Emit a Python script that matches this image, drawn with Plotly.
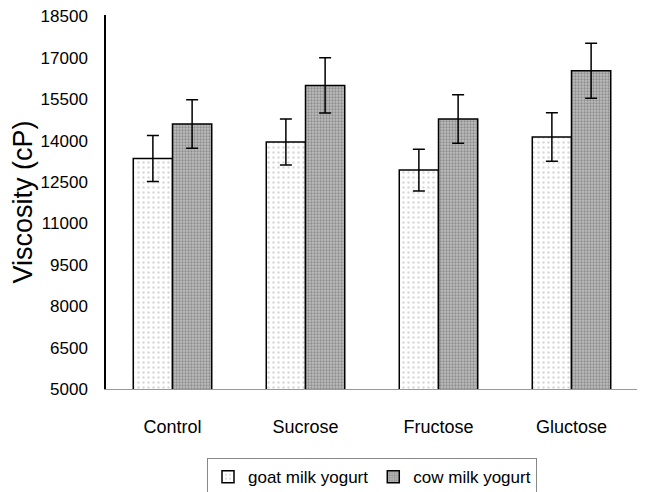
import plotly.graph_objects as go

categories = ["Control", "Sucrose", "Fructose", "Gluctose"]
goat_values = [13350, 13950, 12930, 14130]
goat_errors = [830, 830, 760, 880]
cow_values = [14600, 16000, 14780, 16530]
cow_errors = [880, 1000, 880, 1000]
y_ticks = [5000, 6500, 8000, 9500, 11000, 12500, 14000, 15500, 17000, 18500]
y_tick_labels = [str(v) for v in y_ticks]

fig = go.Figure()
fig.add_trace(go.Bar(
    x=categories, y=goat_values, name="goat milk yogurt",
    marker=dict(color="white", line=dict(color="black", width=1.5),
                pattern=dict(shape=".", fgcolor="#b0b0b0", bgcolor="white", size=5, solidity=0.18)),
    error_y=dict(type="data", array=goat_errors, color="black", thickness=1.5, width=6),
))
fig.add_trace(go.Bar(
    x=categories, y=cow_values, name="cow milk yogurt",
    marker=dict(color="#a0a0a0", line=dict(color="black", width=1.5),
                pattern=dict(shape=".", fgcolor="#5e5e5e", bgcolor="#bdbdbd", size=3, solidity=0.45)),
    error_y=dict(type="data", array=cow_errors, color="black", thickness=1.5, width=6),
))

# the page body has an 8px default margin, so the figure is sized/placed to compensate
fig.update_layout(
    width=637, height=484,
    margin=dict(l=98, r=7, t=7, b=103),
    paper_bgcolor="white", plot_bgcolor="white",
    barmode="group", bargap=0.41, bargroupgap=0,
    font=dict(family="Liberation Sans, Arial, sans-serif", color="black"),
    showlegend=True,
    legend=dict(orientation="h", x=0.5, xanchor="center", xref="paper",
                y=0.07, yanchor="top", yref="container",
                bordercolor="#888888", borderwidth=1, font=dict(size=17),
                itemwidth=30, tracegroupgap=0, bgcolor="white"),
    xaxis=dict(showline=True, linecolor="#999999", linewidth=1, ticks="",
               tickfont=dict(size=18), showgrid=False, ticklabelstandoff=21,
               automargin=False),
    yaxis=dict(range=[5000, 18550], tickvals=y_ticks, ticktext=y_tick_labels,
               showline=True, linecolor="black", automargin=False,
               linewidth=1.5, ticks="", showgrid=False, zeroline=False,
               tickfont=dict(size=17), ticklabelstandoff=13, ticklabeloverflow="allow",
               title=dict(text="Viscosity (cP)", font=dict(size=27), standoff=0)),
)

fig.write_html("out.html")
